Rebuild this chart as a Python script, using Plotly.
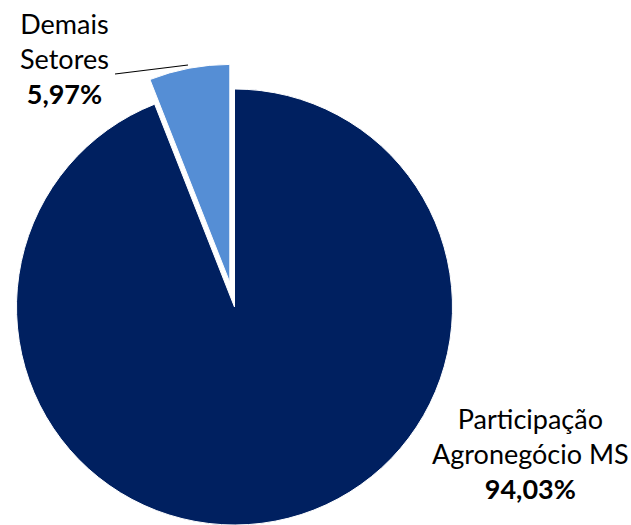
import plotly.graph_objects as go

# Data
labels = ["Participação Agronegócio MS", "Demais Setores"]
label_lines = [["Participação", "Agronegócio MS"], ["Demais", "Setores"]]
values = [94.03, 5.97]
colors = ["#002060", "#558ED5"]

# Geometry (layout)
W, H = 631, 525
cx, cy, r = 234.5, 307, 218
dx, dy = -4.7, -24.6   # explode offset of the small slice
transparent = "rgba(0,0,0,0)"


def clamp(v):
    return min(1.0, max(0.0, v))


def dom(cx_, cy_):
    return dict(x=[clamp((cx_ - r) / W), clamp((cx_ + r) / W)],
                y=[clamp(1 - (cy_ + r) / H), clamp(1 - (cy_ - r) / H)])


def pct(v):
    return f"{v:.2f}".replace(".", ",") + "%"


fig = go.Figure()
# main (non-exploded) slice
fig.add_trace(go.Pie(
    labels=labels, values=values, sort=False, direction="clockwise", rotation=0,
    marker=dict(colors=[colors[0], transparent],
                line=dict(color=["white", transparent], width=[1, 0])),
    textinfo="none", hoverinfo="label+percent", domain=dom(cx, cy), showlegend=False,
))
# exploded slice
fig.add_trace(go.Pie(
    labels=labels, values=values, sort=False, direction="clockwise", rotation=0,
    marker=dict(colors=[transparent, colors[1]],
                line=dict(color=[transparent, "white"], width=[0, 1])),
    textinfo="none", hoverinfo="label+percent", domain=dom(cx + dx, cy + dy), showlegend=False,
))

font = dict(family="Lato, Calibri, sans-serif", size=27, color="black")
label_pos = [(530, 453), (64, 59)]
for i in range(2):
    txt = "<br>".join(label_lines[i]) + "<br><b>" + pct(values[i]) + "</b>"
    fig.add_annotation(x=label_pos[i][0] / W, y=1 - label_pos[i][1] / H, xref="paper", yref="paper",
                       text=txt, showarrow=False, xanchor="center", yanchor="middle",
                       align="center", font=font)

# leader line for the small slice label
fig.add_shape(type="line", xref="paper", yref="paper",
              x0=115 / W, y0=1 - 74 / H, x1=188 / W, y1=1 - 65 / H,
              line=dict(color="black", width=1.2))

fig.update_layout(width=W, height=H, margin=dict(l=0, r=0, t=0, b=0),
                  paper_bgcolor="white", plot_bgcolor="white")
fig.write_html("out.html", config={"displayModeBar": False},
               post_script="document.body.style.margin='0';document.body.style.overflow='hidden';")
